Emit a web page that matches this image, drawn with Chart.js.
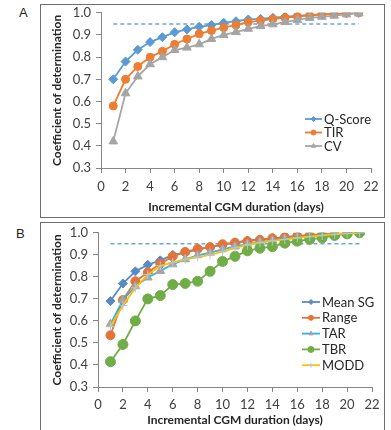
<!DOCTYPE html>
<html>
<head>
<meta charset="utf-8">
<script src="https://cdn.jsdelivr.net/npm/chart.js@4.4.1/dist/chart.umd.min.js"></script>
<style>
  body { margin: 0; background: #fff; width: 391px; height: 430px; position: relative; overflow: hidden; font-family: Lato, sans-serif; }
  .frame { position: absolute; border: 1px solid #6e6e6e; left: 40px; width: 343px; }
  #frameA { top: 4px; height: 212px; }
  #frameB { top: 222px; height: 220px; }
  .tag { position: absolute; font: 13px "Liberation Sans", Arial, sans-serif; color: #222; }
  canvas { position: absolute; left: 0; }
</style>
</head>
<body>
<div class="frame" id="frameA"></div>
<div class="frame" id="frameB"></div>
<div class="tag" style="left:19px;top:5px">A</div>
<div class="tag" style="left:16px;top:226px">B</div>
<canvas id="chartA" width="391" height="218" style="top:0"></canvas>
<canvas id="chartB" width="391" height="210" style="top:220px"></canvas>

<script>
// incremental CGM duration, days
const days = [1, 2, 3, 4, 5, 6, 7, 8, 9, 10, 11, 12, 13, 14, 15, 16, 17, 18, 19, 20, 21];

// panel A
const qScore = [0.70, 0.78, 0.833, 0.868, 0.89, 0.912, 0.925, 0.937, 0.945, 0.955, 0.962, 0.97, 0.973, 0.978, 0.983, 0.986, 0.99, 0.993, 0.996, 0.998, 1.0];
const tir    = [0.58, 0.70, 0.758, 0.80, 0.826, 0.858, 0.882, 0.905, 0.92, 0.933, 0.945, 0.958, 0.965, 0.972, 0.978, 0.983, 0.988, 0.992, 0.995, 0.998, 1.0];
const cv     = [0.42, 0.637, 0.713, 0.768, 0.80, 0.832, 0.843, 0.858, 0.882, 0.90, 0.913, 0.928, 0.94, 0.948, 0.958, 0.968, 0.977, 0.982, 0.987, 0.993, 0.997];

// panel B
const meanSG = [0.69, 0.77, 0.825, 0.855, 0.875, 0.90, 0.91, 0.925, 0.935, 0.945, 0.955, 0.965, 0.97, 0.975, 0.98, 0.985, 0.988, 0.992, 0.995, 0.998, 1.0];
const range  = [0.535, 0.695, 0.78, 0.82, 0.86, 0.893, 0.913, 0.927, 0.935, 0.948, 0.955, 0.962, 0.968, 0.975, 0.98, 0.985, 0.99, 0.993, 0.996, 0.998, 1.0];
const tar    = [0.585, 0.695, 0.757, 0.797, 0.827, 0.857, 0.88, 0.898, 0.91, 0.925, 0.938, 0.948, 0.958, 0.965, 0.972, 0.978, 0.983, 0.988, 0.993, 0.997, 1.0];
const tbr    = [0.415, 0.493, 0.60, 0.70, 0.715, 0.765, 0.77, 0.78, 0.825, 0.87, 0.893, 0.918, 0.93, 0.937, 0.953, 0.962, 0.97, 0.977, 0.988, 0.995, 1.0];
const modd   = [0.575, 0.67, 0.75, 0.81, 0.85, 0.865, 0.88, 0.89, 0.90, 0.915, 0.932, 0.945, 0.955, 0.963, 0.97, 0.977, 0.983, 0.988, 0.993, 0.997, 1.0];

// 0.95 reference line
const thresholdDays = [1, 21];
const threshold = 0.95;

const xTitle = 'Incremental CGM duration (days)';
const yTitle = 'Coefficient of determination';

const toPoints = (ys) => ys.map((y, i) => ({ x: days[i], y: y }));

function series(label, ys, color, style, opts) {
  return Object.assign({
    label: label,
    data: toPoints(ys),
    borderColor: color,
    backgroundColor: color,
    pointBackgroundColor: color,
    pointBorderColor: color,
    borderWidth: 1.8,
    pointStyle: style,
    pointRadius: 4,
    pointBorderWidth: 1,
    legendRadius: 2.5,
  }, opts || {});
}

function thresholdLine() {
  return {
    label: '0.95',
    noLegend: true,
    data: thresholdDays.map(d => ({ x: d, y: threshold })),
    borderColor: '#6aa7dc',
    borderWidth: 1.5,
    borderDash: [4, 3],
    pointRadius: 0,
    order: 100,
  };
}

// legend drawn at the lower right of the plot like the original
const sideLegend = {
  id: 'sideLegend',
  afterDraw(chart, args, opts) {
    const ctx = chart.ctx;
    ctx.save();
    ctx.font = '13px Lato, sans-serif';
    ctx.textBaseline = 'middle';
    let y = opts.y;
    chart.data.datasets.forEach(ds => {
      if (ds.noLegend) return;
      ctx.setLineDash([]);
      ctx.strokeStyle = ds.borderColor;
      ctx.lineWidth = 1.8;
      ctx.beginPath();
      ctx.moveTo(opts.x, y);
      ctx.lineTo(opts.x + opts.len, y);
      ctx.stroke();
      ctx.fillStyle = ds.pointBackgroundColor;
      ctx.strokeStyle = ds.pointBorderColor;
      ctx.lineWidth = 1;
      if (Chart.helpers && Chart.helpers.drawPoint) {
        Chart.helpers.drawPoint(ctx, { pointStyle: ds.pointStyle, radius: ds.legendRadius, rotation: 0, borderWidth: 1 }, opts.x + opts.len / 2, y);
      }
      ctx.fillStyle = '#262626';
      ctx.fillText(ds.label, opts.x + opts.len + 2, y + 0.5);
      y += opts.step;
    });
    ctx.restore();
  }
};

function makeChart(id, datasets, cfg) {
  const n = datasets.length;
  datasets.forEach((ds, i) => { if (ds.order === undefined) ds.order = n - i; });
  return new Chart(document.getElementById(id).getContext('2d'), {
    type: 'line',
    data: { datasets: datasets },
    plugins: [sideLegend],
    options: {
      responsive: false,
      animation: false,
      devicePixelRatio: 1,
      layout: { padding: { top: cfg.top, right: cfg.right, left: 0, bottom: 0 } },
      plugins: {
        legend: { display: false },
        tooltip: { enabled: false },
        sideLegend: cfg.legend,
      },
      scales: {
        x: {
          type: 'linear',
          min: 0,
          max: 22,
          ticks: { stepSize: 2, color: '#404040', font: { family: 'Lato', size: 13 }, padding: cfg.xPad, maxRotation: 0 },
          grid: { drawOnChartArea: false, color: '#868686', tickLength: 5 },
          border: { color: '#868686', width: 1 },
          title: { display: true, text: xTitle, color: '#262626', font: { family: 'Lato', size: 12, weight: 'bold' }, padding: { top: 0, bottom: cfg.xTitlePad } },
          afterFit: (s) => { s.height = cfg.xHeight; },
        },
        y: {
          min: 0.3,
          max: 1.0,
          ticks: { stepSize: 0.1, color: '#404040', font: { family: 'Lato', size: 13 }, padding: 5, callback: (v) => v.toFixed(1) },
          grid: { drawOnChartArea: false, color: '#868686', tickLength: 5 },
          border: { color: '#868686', width: 1 },
          title: { display: true, text: yTitle, color: '#262626', font: { family: 'Lato', size: 12, weight: 'bold' }, padding: { top: 50, bottom: 0 } },
          afterFit: (s) => { s.width = cfg.yWidth; },
        }
      }
    }
  });
}

makeChart('chartA', [
  series('Q-Score', qScore, '#5b9bd5', 'rectRot', { pointRadius: 4.5 }),
  series('TIR', tir, '#ed7d31', 'circle', { pointRadius: 4 }),
  series('CV', cv, '#a5a5a5', 'triangle', { pointRadius: 5 }),
  thresholdLine(),
], { top: 12, right: 20, yWidth: 101, xHeight: 50, xPad: 6, xTitlePad: 4, legend: { x: 305, y: 119, step: 13.5, len: 17 } });

makeChart('chartB', [
  series('Mean SG', meanSG, '#5a8ac6', 'rectRot', { pointRadius: 4.5 }),
  series('Range', range, '#e2743a', 'circle', { pointRadius: 4.5 }),
  series('TAR', tar, '#2fb3e8', 'triangle', { pointRadius: 5, pointBackgroundColor: '#a5a5a5', pointBorderColor: '#a5a5a5' }),
  series('TBR', tbr, '#70ad47', 'circle', { pointRadius: 5, legendRadius: 3 }),
  series('MODD', modd, '#ffc000', 'cross', { pointRadius: 4.5, pointBackgroundColor: '#a9c8e8', pointBorderColor: '#a9c8e8' }),
  thresholdLine(),
], { top: 10, right: 19, yWidth: 98, xHeight: 43, xPad: 5, xTitlePad: 3, legend: { x: 302, y: 82, step: 15.8, len: 18 } });
</script>
</body>
</html>
